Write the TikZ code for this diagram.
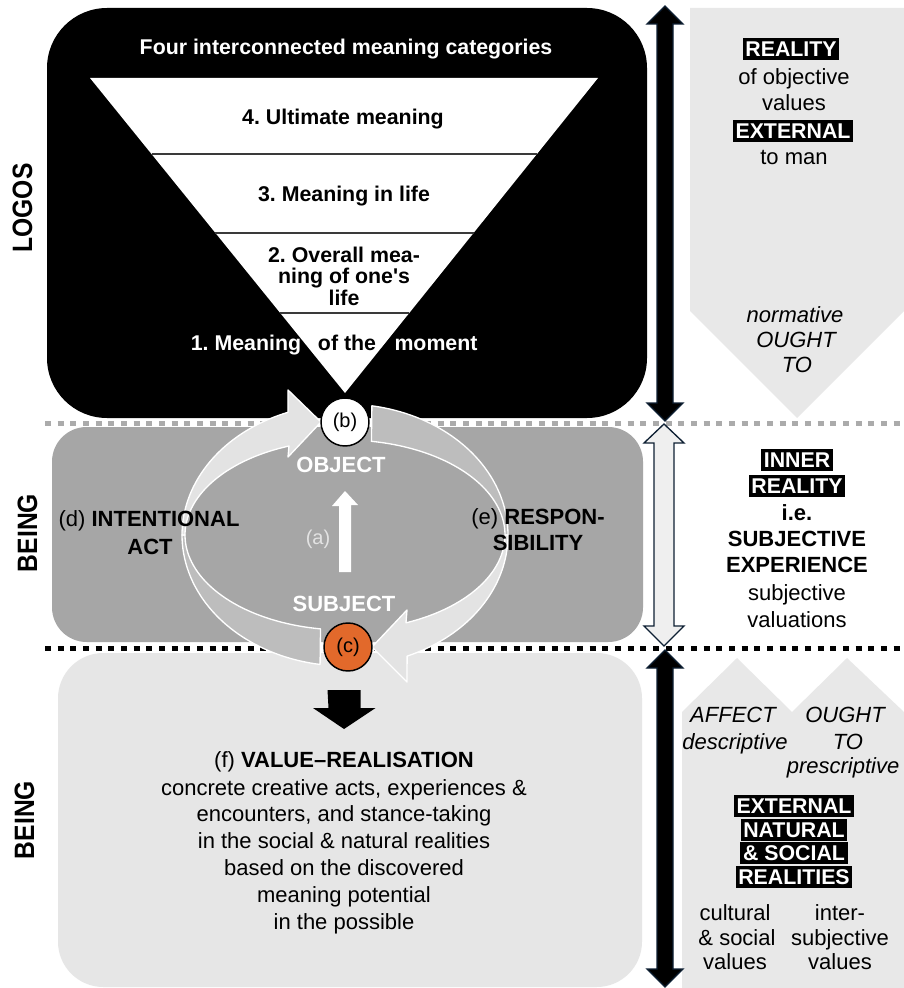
\documentclass[tikz,border=0pt]{standalone}
\usepackage{fontspec}
\setmainfont{Liberation Sans}
\newfontfamily\sidefont[FakeStretch=0.88]{Liberation Sans}
\usetikzlibrary{calc}

\definecolor{panel}{HTML}{E8E8E8}
\definecolor{midbox}{HTML}{A6A6A6}
\definecolor{lowbox}{HTML}{E6E6E6}
\definecolor{arrlight}{HTML}{E3E3E3}
\definecolor{arrmid}{HTML}{BDBDBD}
\definecolor{dotgray}{HTML}{ABABAB}
\definecolor{orangec}{HTML}{E2692B}
\definecolor{navy}{HTML}{0E2033}
\definecolor{divider}{HTML}{3A3A3A}

\frenchspacing
\begin{document}
\begin{tikzpicture}[x=0.75pt,y=-0.75pt,
  txt/.style={inner sep=0pt, text height=11.8pt, text depth=0pt, align=center,
    font=\fontsize{16.5}{19}\selectfont},
  txtb/.style={txt, font=\fontsize{16.5}{19}\selectfont\bfseries},
  txti/.style={txt, font=\fontsize{16.5}{19}\selectfont\itshape},
  tri/.style={inner sep=0pt, text height=11.5pt, text depth=0pt,
    font=\fontsize{16}{19}\selectfont\bfseries},
  tag/.style={fill=black, text=white, inner xsep=2pt, inner ysep=2.6pt,
    text height=11.5pt, text depth=0pt, font=\fontsize{16}{19}\selectfont\bfseries},
  side/.style={inner sep=0pt, rotate=90, text height=15pt, text depth=0pt,
    font=\fontsize{21}{24}\sidefont\bfseries},
  dotline/.style={line width=3.75pt, dash pattern=on 4.5pt off 5pt},
  ring/.style={draw=white, line width=1pt, line join=round},
  dblarrow/.style={draw=navy, line width=1pt, line join=miter},
  badge/.style={circle, draw=black, line width=1.1pt, minimum size=36pt,
    inner sep=0pt, font=\fontsize{15}{17}\selectfont}
]
\useasboundingbox (0,0) rectangle (903,988);
\fill[white] (0,0) rectangle (903,988);

% ---------- right-hand panels ----------
\fill[panel] (690,8) -- (904,8) -- (904,311) -- (797,418) -- (690,311) -- cycle;
\fill[panel] (682,988) -- (682,712) -- (737,658) -- (792,712) -- (847,658) -- (904,712) -- (904,988) -- cycle;

% ---------- LOGOS block ----------
\fill[black, rounded corners=45pt] (47,8) rectangle (647,418);
\coordinate (TL) at (90,78);
\coordinate (TR) at (598,78);
\coordinate (AP) at (345,393);
\fill[white] (TL) -- (TR) -- (AP) -- cycle;
\foreach \t in {0.2413, 0.492, 0.746}{
  \draw[divider, line width=1.5pt] ($(TL)!\t!(AP)$) -- ($(TR)!\t!(AP)$);
}
\node[tri, text=white] (title) at (346,47) {Four interconnected meaning categories};
\node[tri] (m4) at (343,117) {4. Ultimate meaning};
\node[tri] (m3) at (344,194) {3. Meaning in life};
\node[tri] (m2a) at (344,255) {2. Overall mea-};
\node[tri] (m2b) at (344,276) {ning of one\textquotesingle s};
\node[tri] (m2c) at (344,298) {life};
\node[tri, text=white] (m1a) at (246,343) {1. Meaning};
\node[tri] (m1b) at (347,343) {of the};
\node[tri, text=white] (m1c) at (436,343) {moment};

% ---------- BEING blocks ----------
\fill[midbox, rounded corners=26pt] (52,427) rectangle (643,642);
\fill[lowbox, rounded corners=34pt] (58,653) rectangle (642,987);

\draw[dotgray, dotline] (45,423) -- (903,423);
\draw[black, dotline] (45,648) -- (903,648);

% ---------- cycle of the two curved arrows ----------
% right arrow, upper half
\filldraw[fill=arrmid, ring]
  plot[domain=-80.5:0, samples=40] ({345+163*cos(\x)},{535+131*sin(\x)})
  -- plot[domain=0:-80.5, samples=40] ({345+160*cos(\x)},{535+95*sin(\x)}) -- cycle;
% right arrow, lower half with head
\filldraw[fill=arrlight, ring]
  plot[domain=0:67.6, samples=40] ({345+163*cos(\x)},{535+131*sin(\x)})
  -- (407,682) -- (372,647) -- (407,610)
  -- plot[domain=67.6:0, samples=40] ({345+160*cos(\x)},{535+95*sin(\x)}) -- cycle;
% left arrow, lower half
\filldraw[fill=arrmid, ring]
  plot[domain=98.8:180, samples=40] ({345+163*cos(\x)},{535+131*sin(\x)})
  -- plot[domain=180:98.8, samples=40] ({345+160*cos(\x)},{535+95*sin(\x)}) -- cycle;
% left arrow, upper half with head
\filldraw[fill=arrlight, ring]
  plot[domain=180:249.5, samples=40] ({345+163*cos(\x)},{535+131*sin(\x)})
  -- (288,390) -- (321,422) -- (288,457)
  -- plot[domain=249.5:180, samples=40] ({345+160*cos(\x)},{535+95*sin(\x)}) -- cycle;

\node[badge, fill=white] (b) at (345,422) {(b)};
\node[badge, fill=orangec] (c) at (348,647) {(c)};

\node[txtb, text=white] (object) at (341,465) {OBJECT};
\node[txtb, text=white] (subject) at (344,604) {SUBJECT};
\node[txt, text=arrlight, font=\fontsize{15}{17}\selectfont] (a) at (318,537) {(a)};
\coordinate (aS) at (345,572);
\coordinate (aT) at (345,491);
\fill[white] (aS) ++(-6,0) -- ++(0,-66) -- ++(-7,0) -- (aT) -- ++(13,14) -- ++(-7,0) -- ++(0,67) -- cycle;

\node[txt] (d1) at (149,519) {(d) \textbf{INTENTIONAL}};
\node[txtb] (d2) at (150,547) {ACT};
\node[txt] (e1) at (538,517) {(e) \textbf{RESPON-}};
\node[txtb] (e2) at (538,543) {SIBILITY};

% ---------- value realisation ----------
\coordinate (fT) at (344,690);
\fill[black] (fT) ++(-16.5,0) -- ++(33,0) -- ++(0,18) -- ++(15,0) -- (344,729) -- (313,708) -- ++(15.5,0) -- cycle;
\node[txt] (f0) at (344,760) {(f) \textbf{VALUE--REALISATION}};
\node[txt] (f1) at (344,788) {concrete creative acts, experiences \&};
\node[txt] (f2) at (344,814) {encounters, and stance-taking};
\node[txt] (f3) at (344,841) {in the social \& natural realities};
\node[txt] (f4) at (344,868) {based on the discovered};
\node[txt] (f5) at (344,895) {meaning potential};
\node[txt] (f6) at (344,922) {in the possible};

% ---------- vertical double arrows ----------
\filldraw[fill=black, dblarrow] (665,6) -- (683,24) -- (673,24) -- (673,403) -- (683,403)
  -- (665,421) -- (647,403) -- (657,403) -- (657,24) -- (647,24) -- cycle;
\filldraw[fill=panel!70!white, dblarrow] (664,424) -- (684,443) -- (674,443) -- (674,626) -- (684,626)
  -- (664,646) -- (644,626) -- (654,626) -- (654,443) -- (644,443) -- cycle;
\filldraw[fill=black, dblarrow] (665,650) -- (683,668) -- (673,668) -- (673,969) -- (683,969)
  -- (665,987) -- (647,969) -- (657,969) -- (657,668) -- (647,668) -- cycle;

% ---------- right-hand texts ----------
\node[tag] (r1) at (791,49) {REALITY};
\node[txt] (r2) at (794,77) {of objective};
\node[txt] (r3) at (794,103) {values};
\node[tag] (r4) at (793,131) {EXTERNAL};
\node[txt] (r5) at (794,157) {to man};
\node[txti] (n1) at (795,315) {normative};
\node[txti] (n2) at (796,340) {OUGHT};
\node[txti] (n3) at (797,365) {TO};

\node[tag] (i1) at (797,460) {INNER};
\node[tag] (i2) at (797,486) {REALITY};
\node[txtb] (i3) at (797,513) {i.e.};
\node[txtb] (i4) at (797,539) {SUBJECTIVE};
\node[txtb] (i5) at (797,565) {EXPERIENCE};
\node[txt] (i6) at (797,593) {subjective};
\node[txt] (i7) at (797,620) {valuations};

\node[txti] (p1) at (733,715) {AFFECT};
\node[txti] (p2) at (735,742) {descriptive};
\node[txti] (q1) at (845,715) {OUGHT};
\node[txti] (q2) at (848,742) {TO};
\node[txti] (q3) at (843,766) {prescriptive};
\node[tag] (x1) at (794,806) {EXTERNAL};
\node[tag] (x2) at (794,830) {NATURAL};
\node[tag] (x3) at (794,853) {\& SOCIAL};
\node[tag] (x4) at (794,877) {REALITIES};
\node[txt] (v1) at (735,913) {cultural};
\node[txt] (v2) at (737,938) {\& social};
\node[txt] (v3) at (735,962) {values};
\node[txt] (w1) at (840,913) {inter-};
\node[txt] (w2) at (840,938) {subjective};
\node[txt] (w3) at (840,962) {values};

% ---------- side labels ----------
\node[side] (logos) at (22,208) {LOGOS};
\node[side] (being1) at (27,533) {BEING};
\node[side] (being2) at (24,820) {BEING};
\end{tikzpicture}
\end{document}
